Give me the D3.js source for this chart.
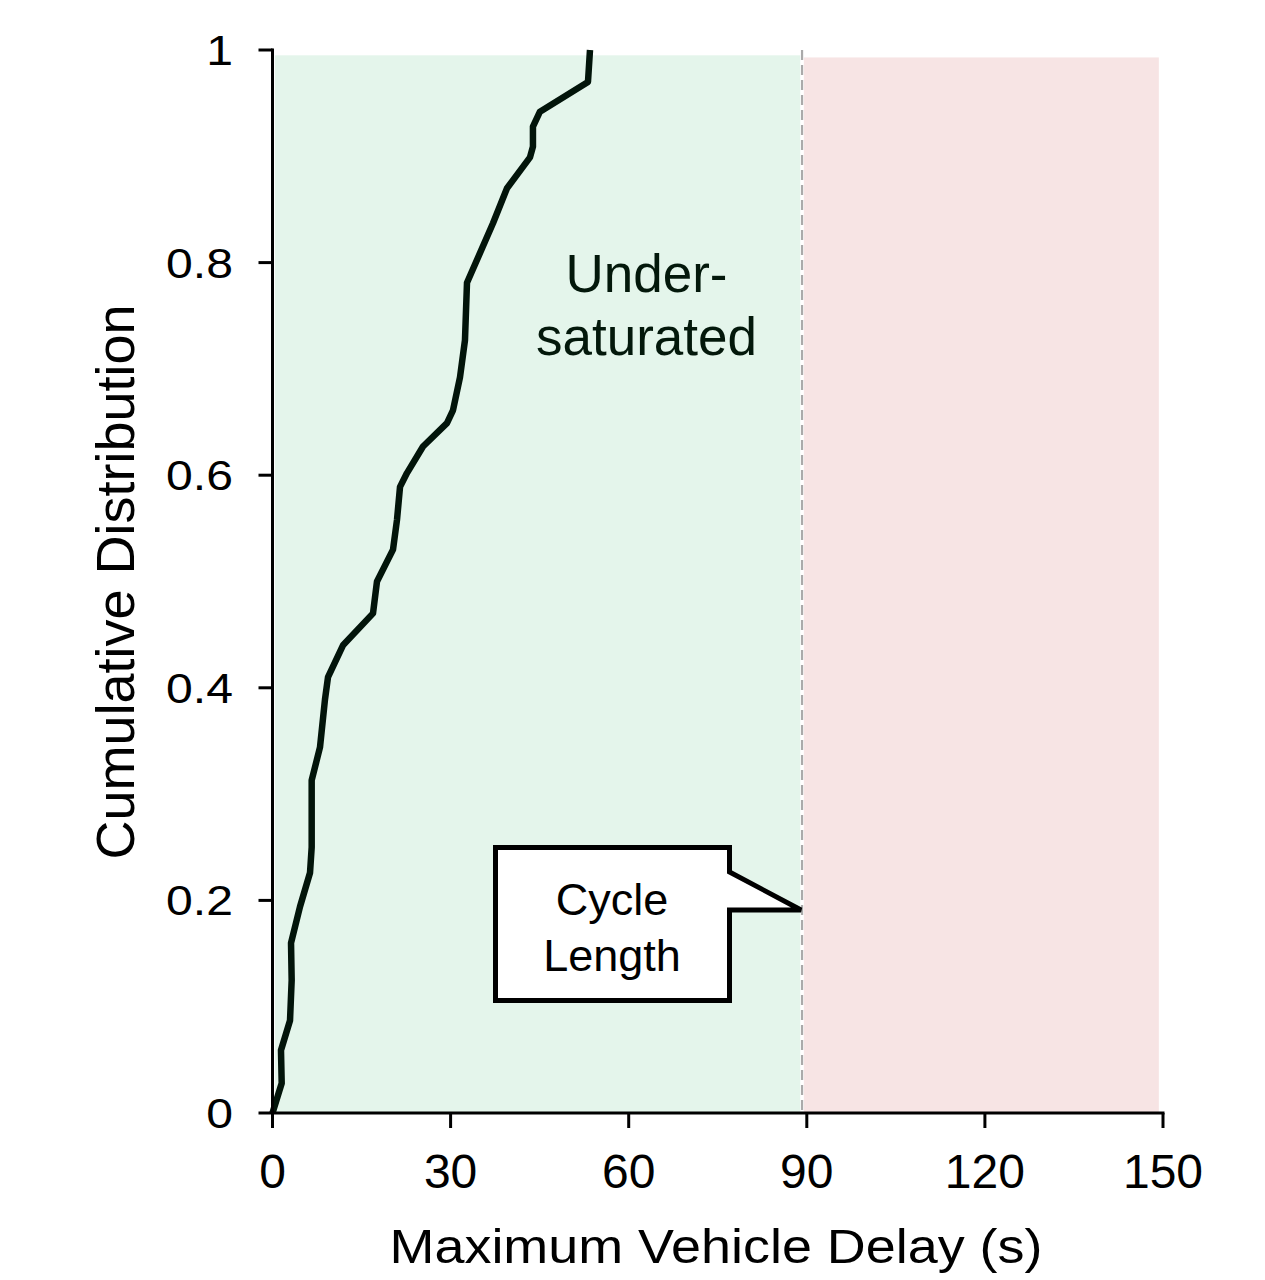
<!DOCTYPE html>
<html><head><meta charset="utf-8">
<script src="https://cdn.jsdelivr.net/npm/d3@7"></script>
<style>body{margin:0;background:#fff}svg{display:block}text{font-family:"Liberation Sans",Arial,sans-serif}</style>
</head><body>
<svg id="c" width="1265" height="1280"></svg>
<script>
const delay = [0,1.55,1.43,2.95,3.23,3.12,4.63,6.32,6.6,6.6,8.0,8.84,9.35,11.87,16.93,17.6,20.3,20.97,21.48,22.65,25.35,29.39,30.4,31.58,32.42,32.76,37.14,39.5,43.37,43.87,43.87,45.05,53.14,53.48];
const cdf   = [0,0.028,0.059,0.087,0.125,0.16,0.194,0.226,0.25,0.313,0.344,0.389,0.41,0.44,0.47,0.5,0.53,0.558,0.589,0.602,0.627,0.649,0.661,0.692,0.727,0.781,0.837,0.87,0.899,0.909,0.928,0.942,0.97,1.0];
const xTicks = [0,30,60,90,120,150];
const yTicks = [0,0.2,0.4,0.6,0.8,1];
const yTickLabels = ["0","0.2","0.4","0.6","0.8","1"];
const cycleLength = 89.2;
const regionNames = ["Under-saturated","Over-saturated"];
const regionFrom = [0.4, 89.5];
const regionTo   = [88.9, 149.3];
const regionTop  = [0.995, 0.993];
const regionColors = ["#e4f5eb","#f7e4e4"];
const xTitle = "Maximum Vehicle Delay (s)";
const yTitle = "Cumulative Distribution";

const svg = d3.select("#c");
const x = d3.scaleLinear().domain([0,150]).range([272.5,1163]);
const y = d3.scaleLinear().domain([0,1]).range([1113,50]);

// regions
svg.selectAll("rect.reg").data(regionFrom).join("rect").attr("class","reg")
  .attr("x",(d,i)=>x(d)).attr("width",(d,i)=>x(regionTo[i])-x(d))
  .attr("y",(d,i)=>y(regionTop[i])).attr("height",(d,i)=>y(0)-y(regionTop[i]))
  .attr("fill",(d,i)=>regionColors[i]);

// cycle length dashed line
svg.append("line").attr("x1",x(cycleLength)).attr("x2",x(cycleLength))
  .attr("y1",y(1)).attr("y2",y(0)).attr("stroke","#aaaaaa").attr("stroke-width",2.2)
  .attr("stroke-dasharray","10,5");

// region label
const ul = svg.append("text").attr("text-anchor","middle").attr("font-size",53).attr("fill","#03180b");
ul.append("tspan").attr("x",x(63.0)).attr("y",292).text("Under-");
ul.append("tspan").attr("x",x(63.0)).attr("y",355).text("saturated");

// curve
const pts = delay.map((d,i)=>[d,cdf[i]]);
svg.append("path").datum(pts)
  .attr("d",d3.line().x(d=>x(d[0])).y(d=>y(d[1])))
  .attr("fill","none").attr("stroke","#02140a").attr("stroke-width",6.5)
  .attr("stroke-linejoin","round");

// axes
const ax = svg.append("g").attr("stroke","#000").attr("stroke-width",3);
ax.append("line").attr("x1",x(0)).attr("x2",x(150)+1.5).attr("y1",y(0)).attr("y2",y(0));
ax.append("line").attr("x1",x(0)).attr("x2",x(0)).attr("y1",y(1)-1.5).attr("y2",y(0)+15);
ax.selectAll("line.xt").data(xTicks).join("line").attr("class","xt")
  .attr("x1",d=>x(d)).attr("x2",d=>x(d)).attr("y1",y(0)).attr("y2",y(0)+15);
ax.selectAll("line.yt").data(yTicks).join("line").attr("class","yt")
  .attr("x1",x(0)-14).attr("x2",x(0)).attr("y1",d=>y(d)).attr("y2",d=>y(d));

svg.selectAll("text.xl").data(xTicks).join("text").attr("class","xl")
  .attr("x",d=>x(d)).attr("y",1188).attr("text-anchor","middle").attr("font-size",48).text(d=>d);
svg.selectAll("g.yl").data(yTicks).join("g").attr("class","yl")
  .attr("transform",d=>`translate(233,${y(d)+15}) scale(1.12,1)`)
  .append("text").attr("text-anchor","end").attr("font-size",43).text((d,i)=>yTickLabels[i]);

svg.append("g").attr("transform","translate(716,1263) scale(1.1,1)")
  .append("text").attr("text-anchor","middle").attr("font-size",49).text(xTitle);
svg.append("text").attr("transform","translate(134,582) rotate(-90)")
  .attr("text-anchor","middle").attr("font-size",54).text(yTitle);

// callout
const bx0 = 495.5, bx1 = 729.5, by0 = 847.5, by1 = 1000.5;
const tipY = y(0.191);
svg.append("path")
  .attr("d",`M${bx0},${by0}H${bx1}V${tipY-38}L${x(cycleLength)-1},${tipY}H${bx1}V${by1}H${bx0}Z`)
  .attr("fill","#fff").attr("stroke","#000").attr("stroke-width",5).attr("stroke-linejoin","miter");
const ct = svg.append("text").attr("text-anchor","middle").attr("font-size",45);
ct.append("tspan").attr("x",612).attr("y",915).text("Cycle");
ct.append("tspan").attr("x",612).attr("y",971).text("Length");
</script>
</body></html>
